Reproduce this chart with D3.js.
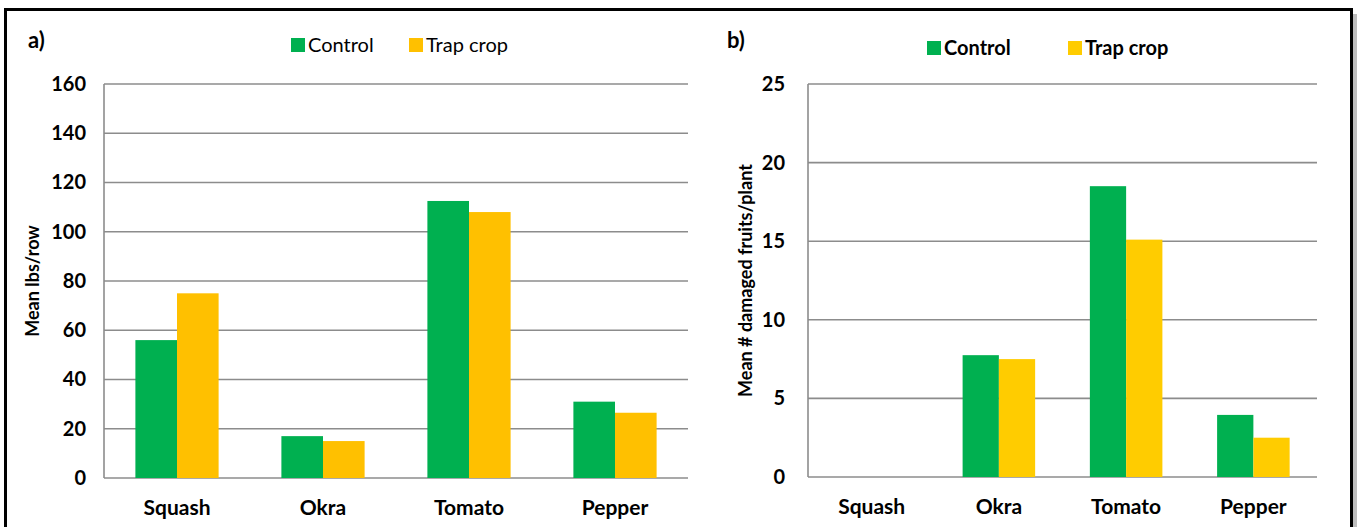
<!DOCTYPE html>
<html>
<head>
<meta charset="utf-8">
<script src="https://cdn.jsdelivr.net/npm/d3@7"></script>
<style>
  body { margin: 0; background: #fff; }
  svg { display: block; font-family: Lato, "Open Sans", sans-serif; }
</style>
</head>
<body>
<svg id="chart" width="1357" height="527"></svg>
<script>
// Données
const crops = ['Squash', 'Okra', 'Tomato', 'Pepper'];
const seriesNames = ['Control', 'Trap crop'];

// a) rendement moyen (lbs/row)
const yieldControl = [56, 17, 112.5, 31];
const yieldTrap = [75, 15, 108, 26.5];
const yieldTicks = [0, 20, 40, 60, 80, 100, 120, 140, 160];

// b) fruits endommagés par plante
const damageControl = [0, 7.75, 18.5, 3.95];
const damageTrap = [0, 7.5, 15.1, 2.5];
const damageTicks = [0, 5, 10, 15, 20, 25];

const green = '#00B050';
const svg = d3.select('#chart');

// Cadre
svg.append('rect')
  .attr('x', 5.5).attr('y', 9.5)
  .attr('width', 1346).attr('height', 530)
  .attr('fill', 'none').attr('stroke', '#000').attr('stroke-width', 3);
svg.append('rect')
  .attr('x', 1353).attr('y', 14).attr('width', 4).attr('height', 513)
  .attr('fill', '#bdbdbd');

function drawPanel(opt) {
  const g = svg.append('g');
  const data = crops.map((c, i) => ({ crop: c, values: [opt.control[i], opt.trap[i]] }));

  const x = d3.scaleBand().domain(crops).range([opt.left, opt.right]).paddingInner(0.43).paddingOuter(0.215);
  const x1 = d3.scaleBand().domain(seriesNames).range([0, x.bandwidth()]);
  const y = d3.scaleLinear().domain([0, d3.max(opt.ticks)]).range([opt.bottom, opt.top]);

  // Grille
  g.append('g')
    .selectAll('line')
    .data(opt.ticks)
    .join('line')
      .attr('x1', opt.left).attr('x2', opt.right)
      .attr('y1', d => y(d)).attr('y2', d => y(d))
      .attr('stroke', '#8c8c8c').attr('stroke-width', 1.6);

  g.append('line')
    .attr('x1', opt.left).attr('x2', opt.left)
    .attr('y1', y(0)).attr('y2', y(d3.max(opt.ticks)))
    .attr('stroke', '#8c8c8c').attr('stroke-width', 1.6);

  // Barres
  g.append('g')
    .selectAll('g')
    .data(data)
    .join('g')
      .attr('transform', d => `translate(${x(d.crop)},0)`)
    .selectAll('rect')
    .data(d => d.values.map((v, k) => ({ key: seriesNames[k], v })))
    .join('rect')
      .attr('x', d => x1(d.key))
      .attr('width', x1.bandwidth())
      .attr('y', d => y(d.v))
      .attr('height', d => y(0) - y(d.v))
      .attr('fill', d => d.key === 'Control' ? green : opt.yellow);

  // Axe vertical
  g.append('g')
    .attr('transform', `translate(${opt.tickX},0)`)
    .call(d3.axisLeft(y).tickValues(opt.ticks).tickSize(0).tickPadding(0))
    .call(a => a.select('.domain').remove())
    .call(a => a.selectAll('text')
      .attr('font-family', 'Lato, sans-serif')
      .attr('font-size', 20).attr('font-weight', 'bold').attr('fill', '#000'));

  // Axe horizontal
  g.append('g')
    .attr('transform', `translate(0,${opt.bottom})`)
    .call(d3.axisBottom(x).tickSize(0).tickPadding(22))
    .call(a => a.select('.domain').remove())
    .call(a => a.selectAll('text')
      .attr('font-family', 'Lato, sans-serif')
      .attr('font-size', 21).attr('font-weight', 'bold').attr('fill', '#000'));

  // Titre de l'axe
  g.append('text')
    .attr('transform', `translate(${opt.titleX},${(opt.top + opt.bottom) / 2}) rotate(-90)`)
    .attr('text-anchor', 'middle').attr('dy', '0.35em')
    .attr('font-size', 18).attr('font-weight', 'bold')
    .text(opt.yTitle);

  // Etiquette du panneau
  g.append('text')
    .attr('x', opt.labelX).attr('y', 48)
    .attr('font-size', 22).attr('font-weight', 'bold')
    .text(opt.label);

  // Légende
  const leg = g.append('g').attr('transform', `translate(0,${opt.legendY})`);
  leg.selectAll('rect')
    .data(seriesNames)
    .join('rect')
      .attr('x', (d, i) => opt.legendX[i])
      .attr('y', -7).attr('width', 14).attr('height', 14)
      .attr('fill', d => d === 'Control' ? green : opt.yellow);
  leg.selectAll('text')
    .data(seriesNames)
    .join('text')
      .attr('x', (d, i) => opt.legendX[i] + 17)
      .attr('dy', '0.35em')
      .attr('font-size', 20)
      .attr('font-weight', opt.legendBold ? 'bold' : 'normal')
      .text(d => d);
}

drawPanel({
  control: yieldControl, trap: yieldTrap, ticks: yieldTicks,
  left: 104, right: 688, top: 84, bottom: 478,
  tickX: 86, titleX: 33, yTitle: 'Mean lbs/row',
  label: 'a)', labelX: 28,
  legendX: [291, 409], legendY: 45, legendBold: false,
  yellow: '#FFC000'
});

drawPanel({
  control: damageControl, trap: damageTrap, ticks: damageTicks,
  left: 808, right: 1317, top: 84, bottom: 477,
  tickX: 785, titleX: 746, yTitle: 'Mean # damaged fruits/plant',
  label: 'b)', labelX: 727,
  legendX: [927, 1068], legendY: 48, legendBold: true,
  yellow: '#FFCC00'
});
</script>
</body>
</html>
